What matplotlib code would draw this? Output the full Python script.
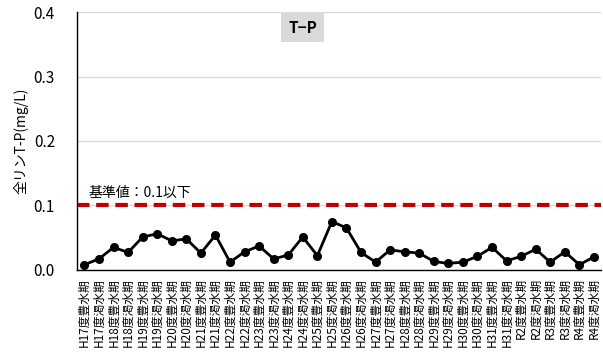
import matplotlib
matplotlib.use("Agg")
import matplotlib.pyplot as plt

plt.rcParams["font.family"] = ["Noto Sans CJK JP", "DejaVu Sans"]

years = ["H17", "H18", "H19", "H20", "H21", "H22", "H23", "H24", "H25",
         "H26", "H27", "H28", "H29", "H30", "H31", "R2", "R3", "R4"]
seasons = ["豊水期", "渇水期"]
labels = [f"{y}度{s}" for y in years for s in seasons]

tp_values = [0.008, 0.017, 0.035, 0.027, 0.051, 0.056, 0.045, 0.048, 0.026,
             0.054, 0.012, 0.028, 0.037, 0.017, 0.023, 0.051, 0.022, 0.075,
             0.065, 0.027, 0.012, 0.031, 0.028, 0.026, 0.013, 0.010, 0.012,
             0.021, 0.035, 0.014, 0.021, 0.032, 0.012, 0.028, 0.008, 0.020]

standard = 0.1

fig = plt.figure(figsize=(6.03, 3.56), dpi=100)
ax = fig.add_axes([0.128, 0.242, 0.869, 0.724])

x = list(range(len(labels)))
ax.plot(x, tp_values, color="black", linewidth=2, marker="o",
        markersize=5.5, zorder=3)
ax.axhline(standard, color="#c00000", linewidth=3, linestyle=(0, (3, 1.6)),
           zorder=2)
ax.text(0.25, standard + 0.008, "基準値：0.1以下", fontsize=10,
        va="bottom", ha="left")

ax.set_xlim(-0.5, len(labels) - 0.5)
ax.set_ylim(0, 0.4)
ax.set_yticks([0.0, 0.1, 0.2, 0.3, 0.4])
ax.set_yticklabels([f"{v:.1f}" for v in [0.0, 0.1, 0.2, 0.3, 0.4]], fontsize=11)
ax.set_xticks(x)
ax.set_xticklabels(labels, rotation=90, fontsize=8.5)
ax.tick_params(length=0, pad=6)
ax.tick_params(axis="y", pad=16)

ax.grid(axis="y", color="#d9d9d9", linewidth=1)
ax.set_axisbelow(True)
for side in ["top", "right"]:
    ax.spines[side].set_visible(False)
for side in ["left", "bottom"]:
    ax.spines[side].set_color("black")
    ax.spines[side].set_linewidth(1)

ax.set_ylabel("全リンT-P(mg/L)", fontsize=10, labelpad=4)

ax.text(0.43, 0.94, "T−P", transform=ax.transAxes, fontsize=11,
        fontweight="bold", ha="center", va="center",
        bbox=dict(facecolor="#d9d9d9", edgecolor="none", pad=5))

fig.savefig("out.png", dpi=100)
